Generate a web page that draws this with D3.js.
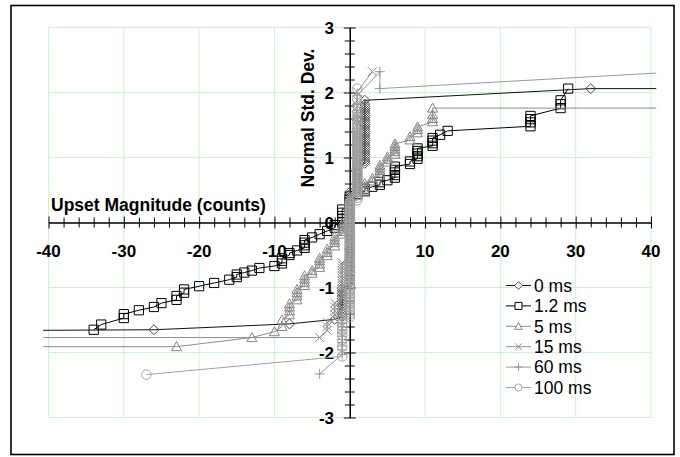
<!DOCTYPE html>
<html>
<head>
<meta charset="utf-8">
<script src="https://cdn.jsdelivr.net/npm/d3@7"></script>
<style>
  body { margin: 0; background: #fff; }
  svg { display: block; }
  text { font-family: Arial, "Liberation Sans", sans-serif; }
</style>
</head>
<body>
<svg id="chart" width="680" height="457"></svg>
<script>
// Axis labels and tick values
const xTickLabels = [-40, -30, -20, -10, 0, 10, 20, 30, 40];
const yTickLabels = [-3, -2, -1, 0, 1, 2, 3];
const xTitle = "Upset Magnitude (counts)";
const yTitle = "Normal Std. Dev.";
const seriesNames = ["0 ms", "1.2 ms", "5 ms", "15 ms", "60 ms", "100 ms"];

// Normal probability data: each entry is [upset magnitude, [normal scores at that magnitude]]
const ms0 = [
  [-60, [-1.67]], [-26, [-1.65]], [-8, [-1.56]], [-2, [-1.49]],
  [-1, [-1.45, -1.41, -1.37, -1.33, -1.29, -1.25, -1.21, -1.17, -1.13, -1.09, -1.05, -1.01]],
  [0, [-0.97, -0.93, -0.89, -0.85, -0.81, -0.77, -0.73, -0.69, -0.65, -0.61, -0.57, -0.53, -0.49,
       -0.45, -0.41, -0.37, -0.33, -0.29, -0.25, -0.21, -0.17, -0.13, -0.09, -0.05, -0.01, 0.03,
       0.07, 0.11, 0.15, 0.19, 0.23, 0.27, 0.31, 0.35, 0.39, 0.43, 0.47]],
  [1, [0.51, 0.55, 0.59, 0.63, 0.67, 0.71, 0.75, 0.79, 0.83, 0.87]],
  [2, [0.91, 0.945, 0.98, 1.015, 1.05, 1.085, 1.12, 1.155, 1.19, 1.225, 1.26, 1.295, 1.33, 1.365,
       1.40, 1.435, 1.47, 1.505, 1.54, 1.575, 1.61, 1.645, 1.68, 1.715, 1.75, 1.785, 1.82, 1.88]],
  [32, [2.06]], [80, [2.06]]
];

const ms1_2 = [
  [-34, [-1.65]], [-33, [-1.57]], [-30, [-1.47, -1.41]], [-28, [-1.35]], [-26, [-1.30]],
  [-25, [-1.24]], [-23, [-1.19, -1.13]], [-22, [-1.08, -1.03]], [-20, [-0.98]], [-18, [-0.93]],
  [-16, [-0.88]], [-15, [-0.84, -0.80]], [-14, [-0.77]], [-13, [-0.74]], [-12, [-0.70]],
  [-10, [-0.67]], [-9, [-0.63, -0.59, -0.55]], [-8, [-0.50, -0.47]], [-7, [-0.43]],
  [-6, [-0.39, -0.35, -0.31, -0.27]], [-5, [-0.23]], [-4, [-0.18]], [-3, [-0.13]],
  [-2, [-0.08, -0.04]], [-1, [0.00, 0.05, 0.10, 0.15, 0.20]], [0, [0.25, 0.30, 0.35, 0.40]],
  [1, [0.44]], [2, [0.48, 0.52]], [3, [0.55]], [4, [0.58, 0.62]], [5, [0.65]],
  [6, [0.69, 0.73, 0.77, 0.81, 0.86]], [8, [0.90, 0.94]], [9, [0.98, 1.02, 1.06, 1.10, 1.14]],
  [11, [1.18, 1.22, 1.26, 1.30]], [12, [1.35]], [13, [1.41]], [24, [1.48, 1.54, 1.59, 1.64]],
  [28, [1.76, 1.82, 1.88]], [29, [2.06]]
];

const ms5 = [
  [-100, [-1.91]], [-23, [-1.91]], [-13, [-1.77]], [-10, [-1.68]], [-9, [-1.60, -1.50]],
  [-8, [-1.42, -1.36, -1.30, -1.25]], [-7, [-1.19, -1.13, -1.08, -1.03]],
  [-6, [-0.97, -0.92, -0.87, -0.82]], [-5, [-0.78, -0.74]], [-4, [-0.69, -0.64, -0.59, -0.55]],
  [-3, [-0.51, -0.46, -0.41]], [-2, [-0.36, -0.31, -0.27, -0.22]],
  [-1, [-0.18, -0.14, -0.10, -0.06, -0.02]],
  [0, [0.02, 0.06, 0.10, 0.14, 0.18, 0.22, 0.26, 0.30, 0.34, 0.38]], [1, [0.42, 0.46]],
  [2, [0.50, 0.55, 0.60]], [3, [0.64, 0.68]], [4, [0.72, 0.76, 0.80, 0.84, 0.88]],
  [5, [0.93, 0.97, 1.01]], [6, [1.05, 1.09, 1.13, 1.17, 1.21]], [8, [1.27, 1.32]],
  [9, [1.38, 1.43, 1.47]], [11, [1.55, 1.60, 1.66, 1.76]], [100, [1.76]]
];

const ms15 = [
  [-100, [-1.77]], [-4, [-1.77]], [-3, [-1.66, -1.60, -1.54]],
  [-2, [-1.48, -1.42, -1.36, -1.30, -1.24]],
  [-1, [-1.18, -1.14, -1.10, -1.06, -1.02, -0.98, -0.94, -0.90, -0.86, -0.82, -0.78, -0.74, -0.70,
        -0.66, -0.62]],
  [0, [-0.58, -0.54, -0.50, -0.46, -0.42, -0.38, -0.34, -0.30, -0.26, -0.22, -0.18, -0.14, -0.10,
       -0.06, -0.02, 0.02, 0.06, 0.10, 0.14, 0.18, 0.22, 0.26, 0.30, 0.34, 0.38, 0.42]],
  [1, [0.46, 0.50, 0.54, 0.58, 0.62, 0.66, 0.70, 0.74, 0.78, 0.82, 0.86, 0.90, 0.94, 0.98, 1.02,
       1.06, 1.10, 1.14, 1.18, 1.22, 1.26, 1.30, 1.34, 1.38, 1.42, 1.47, 1.52, 1.58, 1.64, 1.71,
       1.79, 1.88, 2.01]],
  [3, [2.32]]
];

const ms60 = [
  [-4, [-2.33]],
  [-1, [-2.03, -1.96, -1.90, -1.85, -1.80, -1.75, -1.70, -1.65, -1.60, -1.55, -1.50, -1.45, -1.40,
        -1.35]],
  [0, [-1.30, -1.25, -1.20, -1.15, -1.10, -1.05, -1.00, -0.95, -0.90, -0.85, -0.80, -0.75, -0.70,
       -0.65, -0.60, -0.55, -0.50, -0.45, -0.40, -0.35, -0.30, -0.25, -0.20, -0.15, -0.10, -0.05,
       0.00, 0.05, 0.10, 0.15, 0.20, 0.25, 0.30, 0.35, 0.40]],
  [1, [0.45, 0.50, 0.55, 0.60, 0.65, 0.70, 0.75, 0.80, 0.85, 0.90, 0.95, 1.00, 1.05, 1.10, 1.15,
       1.20, 1.25, 1.30, 1.35, 1.40, 1.45, 1.51, 1.57, 1.64, 1.72, 1.82, 1.95]],
  [4, [2.32, 2.06]], [110, [2.75]]
];

const ms100 = [
  [-27, [-2.34]],
  [-1, [-2.06, -1.91, -1.81, -1.73, -1.66, -1.60, -1.55, -1.50]],
  [0, [-1.46, -1.42, -1.38, -1.34, -1.30, -1.26, -1.22, -1.18, -1.14, -1.10, -1.06, -1.02, -0.98,
       -0.94, -0.90, -0.86, -0.82, -0.78, -0.74, -0.70, -0.66, -0.62, -0.58, -0.54, -0.50, -0.46,
       -0.42, -0.38, -0.34, -0.30, -0.26, -0.22, -0.18, -0.14, -0.10, -0.06, -0.02, 0.02, 0.06,
       0.10, 0.14, 0.18, 0.22, 0.26, 0.30]],
  [1, [0.34, 0.38, 0.42, 0.46, 0.50, 0.54, 0.58, 0.62, 0.66, 0.70, 0.74, 0.78, 0.82, 0.86, 0.90,
       0.94, 0.98, 1.02, 1.06, 1.10, 1.14, 1.18, 1.22, 1.26, 1.30, 1.34, 1.38, 1.42, 1.46, 1.51,
       1.57, 1.63, 1.70, 1.79, 1.90, 2.06]]
];

const seriesData = [ms0, ms1_2, ms5, ms15, ms60, ms100];
const seriesMarkers = ["diamond", "square", "triangle", "cross", "plus", "circle"];
const markerColors = ["#4a4a4a", "#000000", "#858585", "#8a8a8a", "#959595", "#a3a3a3"];
const lineColors = ["#111111", "#000000", "#8c8c8c", "#909090", "#9a9a9a", "#a3a3a3"];

// ---------- drawing ----------
const svg = d3.select("#chart");
const x = d3.scaleLinear().domain([-40, 40]).range([48.5, 651]);
const y = d3.scaleLinear().domain([-3, 3]).range([417.5, 27.5]);

function markerPath(kind, s) {
  switch (kind) {
    case "diamond": return `M0,${-s}L${s},0L0,${s}L${-s},0Z`;
    case "square": { const h = s * 0.92; return `M${-h},${-h}H${h}V${h}H${-h}Z`; }
    case "triangle": return `M0,${-s}L${s},${s * 0.8}L${-s},${s * 0.8}Z`;
    case "cross": { const h = s * 0.9; return `M${-h},${-h}L${h},${h}M${-h},${h}L${h},${-h}`; }
    case "plus": return `M0,${-s}V${s}M${-s},0H${s}`;
    case "circle": { const r = s * 0.94; return `M${r},0A${r},${r} 0 1,1 ${-r},0A${r},${r} 0 1,1 ${r},0Z`; }
  }
}

// outer frame
svg.append("rect")
  .attr("x", 11).attr("y", 5.5).attr("width", 663).attr("height", 449)
  .attr("fill", "#fff").attr("stroke", "#000").attr("stroke-width", 1.6);

// light green grid
const grid = svg.append("g").attr("stroke", "#c8f7c8").attr("stroke-width", 1);
grid.selectAll(".gx").data(xTickLabels).join("line")
  .attr("x1", d => x(d)).attr("x2", d => x(d))
  .attr("y1", y(3)).attr("y2", y(-3));
grid.selectAll(".gy").data(yTickLabels).join("line")
  .attr("x1", x(-40)).attr("x2", x(40))
  .attr("y1", d => y(d)).attr("y2", d => y(d));

// crossing axes through the origin
const xMinor = d3.range(-20, 21).map(i => i * 2);
const yMinor = d3.range(-15, 16).map(i => i / 5);

const gx = svg.append("g").attr("transform", `translate(0,${y(0)})`)
  .call(d3.axisBottom(x).tickValues(xMinor).tickFormat("").tickSizeOuter(0));
gx.select(".domain").attr("stroke", "#000").attr("stroke-width", 1.5);
gx.selectAll(".tick line").attr("stroke", "#000")
  .attr("y1", d => d % 10 === 0 ? -6 : -5).attr("y2", d => d % 10 === 0 ? 6 : 5);

const gy = svg.append("g").attr("transform", `translate(${x(0)},0)`)
  .call(d3.axisLeft(y).tickValues(yMinor).tickFormat("").tickSizeOuter(0));
gy.select(".domain").attr("stroke", "#000").attr("stroke-width", 1.5);
gy.selectAll(".tick line").attr("stroke", "#000")
  .attr("x1", d => Math.abs(d - Math.round(d)) < 1e-6 ? -6 : -5)
  .attr("x2", d => Math.abs(d - Math.round(d)) < 1e-6 ? 6 : 5);

// tick labels
svg.append("g").selectAll("text").data(xTickLabels).join("text")
  .attr("x", d => x(d)).attr("y", 256.5)
  .attr("text-anchor", "middle").attr("font-size", 17).attr("font-weight", "bold")
  .text(d => d);
svg.append("g").selectAll("text").data(yTickLabels).join("text")
  .attr("x", 334).attr("y", d => y(d) + 6)
  .attr("text-anchor", "end").attr("font-size", 17).attr("font-weight", "bold")
  .text(d => d);

// axis titles
svg.append("text").attr("x", 51).attr("y", 211)
  .attr("font-size", 17.5).attr("font-weight", "bold").text(xTitle);
svg.append("text").attr("transform", "translate(314,118) rotate(-90)")
  .attr("text-anchor", "middle").attr("font-size", 17.5).attr("font-weight", "bold").text(yTitle);

// series
svg.append("clipPath").attr("id", "plotClip")
  .append("rect").attr("x", x(-40.7)).attr("y", 0)
  .attr("width", x(40.7) - x(-40.7)).attr("height", 457);

const plot = svg.append("g").attr("clip-path", "url(#plotClip)");
const line = d3.line().x(d => x(d[0])).y(d => y(d[1]));

seriesData.forEach((stacks, i) => {
  const pts = stacks.flatMap(([v, scores]) => scores.map(s => [v, s]));
  const g = plot.append("g");
  g.append("path").datum(pts)
    .attr("d", line).attr("fill", "none")
    .attr("stroke", lineColors[i]).attr("stroke-width", 1);
  g.selectAll("path.m").data(pts).join("path").attr("class", "m")
    .attr("transform", d => `translate(${x(d[0])},${y(d[1])})`)
    .attr("d", markerPath(seriesMarkers[i], 5))
    .attr("fill", "none").attr("stroke", markerColors[i]).attr("stroke-width", 1);
});

// legend
const legend = svg.append("g");
const rows = legend.selectAll("g").data(seriesNames).join("g")
  .attr("transform", (d, i) => `translate(506,${285.5 + i * 20.4})`);
rows.append("line").attr("x1", 0).attr("x2", 25).attr("y1", 0).attr("y2", 0)
  .attr("stroke", (d, i) => lineColors[i]).attr("stroke-width", 1);
rows.append("path")
  .attr("transform", "translate(12.5,0)")
  .attr("d", (d, i) => markerPath(seriesMarkers[i], 3.8))
  .attr("fill", "#fff").attr("stroke", (d, i) => markerColors[i]).attr("stroke-width", 1);
rows.append("text").attr("x", 28).attr("y", 6.3)
  .attr("font-size", 17.5).text(d => d);
</script>
</body>
</html>
